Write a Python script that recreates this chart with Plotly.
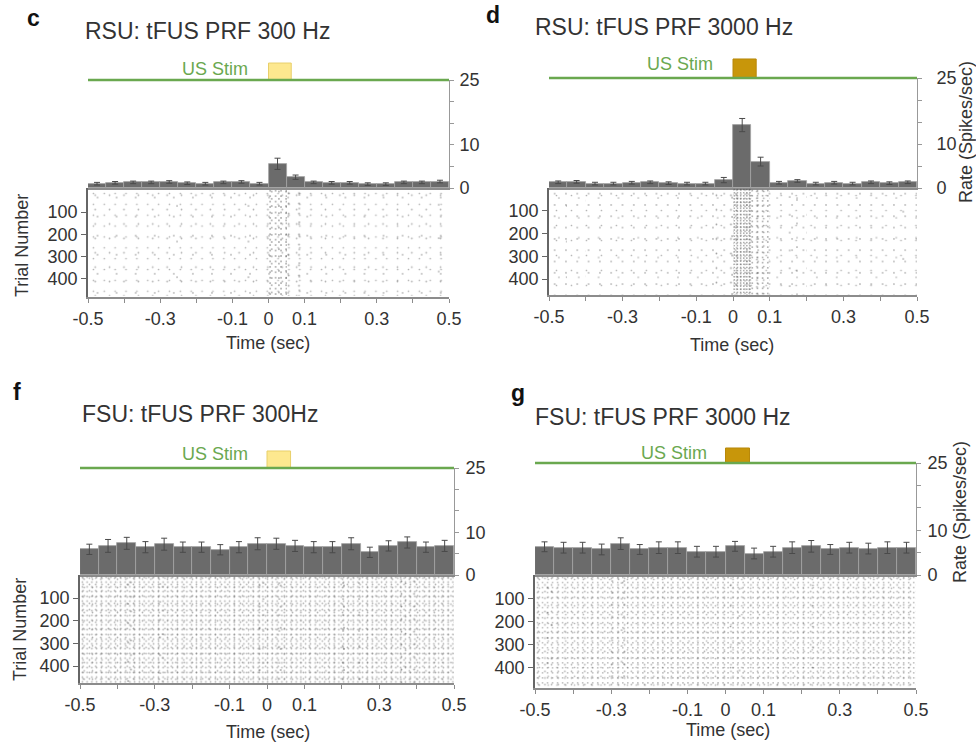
import math
import plotly.graph_objects as go

# ---------------- data ----------------
BIN_CENTERS = [-0.475, -0.425, -0.375, -0.325, -0.275, -0.225, -0.175, -0.125, -0.075, -0.025,
               0.025, 0.075, 0.125, 0.175, 0.225, 0.275, 0.325, 0.375, 0.425, 0.475]
BIN_WIDTH = 0.05
STIM_ON = 0.0
STIM_OFF = 0.063

TIME_TICKS = [-0.5, -0.4, -0.3, -0.2, -0.1, 0.0, 0.1, 0.2, 0.3, 0.4, 0.5]
TIME_TICK_TEXT = ["-0.5", "", "-0.3", "", "-0.1", "0", "0.1", "", "0.3", "", "0.5"]
RATE_TICKS = [0, 5, 10, 15, 20, 25]
RATE_TICK_TEXT = ["0", "", "10", "", "", "25"]
TRIAL_TICKS = [100, 200, 300, 400]

PANEL_LETTERS = ["c", "d", "f", "g"]
PANEL_TITLES = ["RSU: tFUS PRF 300 Hz", "RSU: tFUS PRF 3000 Hz",
                "FSU: tFUS PRF 300Hz", "FSU: tFUS PRF 3000 Hz"]
STIM_FILL = ["#fde88f", "#c8960a", "#fde88f", "#c8960a"]
STIM_EDGE = ["#e8cf6a", "#b8880a", "#e8cf6a", "#b8880a"]
N_TRIALS = [476, 468, 473, 484]

RSU_300_RATE = [1.0, 1.2, 1.3, 1.3, 1.4, 1.1, 1.0, 1.3, 1.4, 1.0,
                5.6, 2.5, 1.3, 1.2, 1.2, 0.9, 0.9, 1.3, 1.3, 1.5]
RSU_300_SEM = [0.3, 0.3, 0.3, 0.3, 0.3, 0.3, 0.3, 0.3, 0.3, 0.3,
               1.3, 0.5, 0.3, 0.3, 0.3, 0.3, 0.3, 0.3, 0.3, 0.3]
RSU_3000_RATE = [1.3, 1.4, 1.0, 1.0, 1.2, 1.3, 1.1, 1.0, 1.0, 1.8,
                 14.3, 6.0, 1.2, 1.6, 1.0, 1.2, 1.0, 1.3, 1.1, 1.3]
RSU_3000_SEM = [0.3, 0.3, 0.3, 0.3, 0.3, 0.3, 0.3, 0.3, 0.3, 0.6,
                1.5, 1.0, 0.3, 0.3, 0.3, 0.3, 0.3, 0.3, 0.3, 0.3]
FSU_300_RATE = [6.0, 6.8, 7.4, 6.5, 7.2, 6.5, 6.5, 5.9, 6.5, 7.3,
                7.3, 6.8, 6.5, 6.5, 7.3, 5.3, 6.8, 7.6, 6.5, 6.8]
FSU_300_SEM = [1.2, 1.5, 1.4, 1.3, 1.4, 1.2, 1.2, 1.2, 1.3, 1.4,
               1.3, 1.3, 1.3, 1.3, 1.4, 1.2, 1.2, 1.3, 1.2, 1.3]
FSU_3000_RATE = [6.3, 6.1, 6.1, 5.7, 7.0, 5.7, 6.1, 6.1, 5.2, 5.2,
                 6.4, 4.8, 5.2, 6.1, 6.4, 5.7, 6.1, 5.9, 6.1, 6.1]
FSU_3000_SEM = [1.1, 1.2, 1.2, 1.2, 1.3, 1.1, 1.3, 1.3, 1.2, 1.2,
                1.1, 1.2, 1.2, 1.3, 1.3, 1.1, 1.2, 1.2, 1.3, 1.2]

RATES = [RSU_300_RATE, RSU_3000_RATE, FSU_300_RATE, FSU_3000_RATE]
SEMS = [RSU_300_SEM, RSU_3000_SEM, FSU_300_SEM, FSU_3000_SEM]

# ---------------- layout geometry (pixels) ----------------
W, H = 976, 743
GEOM = [
    dict(x=(88, 449), hist=(80, 188), rbot=297, trange=[482, -8], stim_top=1.157,
         us=(-0.148, 1.10), standoff=2, title=(83, 31), letter=(33, 18),
         ttitle=(268, 343), ytitle=(22, 246, "Trial Number")),
    dict(x=(549, 917), hist=(78, 188), rbot=295, trange=[470, 0], stim_top=1.173,
         us=(-0.144, 1.13), standoff=11, title=(533, 27), letter=(493, 15),
         ttitle=(732, 345), ytitle=(966, 132, "Rate (Spikes/sec)")),
    dict(x=(80, 454), hist=(468, 575), rbot=683, trange=[475, -1.5], stim_top=1.159,
         us=(-0.139, 1.13), standoff=3, title=(80, 414), letter=(17, 392),
         ttitle=(268, 732), ytitle=(20, 630, "Trial Number")),
    dict(x=(535, 916), hist=(463, 575), rbot=688, trange=[487, -4], stim_top=1.134,
         us=(-0.135, 1.09), standoff=3, title=(533, 417), letter=(518, 393),
         ttitle=(728, 730), ytitle=(960, 512, "Rate (Spikes/sec)")),
]

FONT = "Liberation Sans, Arial, sans-serif"
TXT = "#333333"
GREEN = "#6aa84f"
# superposed stipple lattices (relative spacing) used to draw the raster texture
STIPPLE_LAYERS = [1.0, 1.3247, 1.7549]
STIPPLE_K = 9.0      # px spacing of a one-lattice texture at 1 spike/s
DOT_R = 0.85         # dot radius, px
DOT_COLOR = "#666666"
PEAK_DOT_COLOR = "#3c3c3c"


def px(xp):
    return xp / W


def py(yp):
    return 1 - yp / H


def ax_id(n):
    return "" if n == 1 else str(n)


def stipple_trace(density, n_trials, xa, ya, mult, nl, color):
    """pattern-filled bars: one lattice of a texture whose dot density ~ density."""
    k = STIPPLE_K * math.sqrt(sum(1.0 / (m * m) for m in STIPPLE_LAYERS[:nl]))
    spacing, solidity = [], []
    for d in density:
        if d <= 0.05:
            spacing.append(20.0)
            solidity.append(0.0)
        else:
            s = k * mult / math.sqrt(d)
            spacing.append(s)
            solidity.append(min(0.6, math.pi * DOT_R ** 2 / (s * s)))
    return go.Bar(
        x=BIN_CENTERS, y=[n_trials] * len(BIN_CENTERS), base=0, width=BIN_WIDTH,
        xaxis=xa, yaxis=ya, hoverinfo="skip",
        marker=dict(color="rgba(0,0,0,0)", line=dict(width=0),
                    pattern=dict(shape=".", fgcolor=color, bgcolor="rgba(0,0,0,0)",
                                 size=spacing, solidity=solidity)),
    )


fig = go.Figure()
layout = dict(
    width=W, height=H, margin=dict(l=0, r=0, t=0, b=0, autoexpand=False),
    paper_bgcolor="white", plot_bgcolor="rgba(0,0,0,0)",
    showlegend=False, bargap=0, barmode="overlay",
    font=dict(family=FONT, color=TXT, size=17),
)
shapes = []
annotations = []

for i, g in enumerate(GEOM):
    hx, rx = 2 * i + 1, 2 * i + 2
    hxa, hya = "x" + ax_id(hx), "y" + ax_id(hx)
    rxa, rya = "x" + ax_id(rx), "y" + ax_id(rx)
    rate, sem = RATES[i], SEMS[i]

    # PSTH histogram
    fig.add_trace(go.Bar(
        x=BIN_CENTERS, y=rate, width=BIN_WIDTH, xaxis=hxa, yaxis=hya,
        marker=dict(color="#6b6b6b", line=dict(color="#a3a3a3", width=0.8)),
        error_y=dict(type="data", array=sem, color="#4a4a4a", thickness=1, width=3),
    ))

    # raster texture: a continuous background density (median rate) plus the
    # per-bin excess above it, both taken from the PSTH
    med = sorted(rate)[len(rate) // 2]
    base_density = [med] * len(rate)
    excess = [max(0.0, r - med) for r in rate]
    for mult in STIPPLE_LAYERS:
        fig.add_trace(stipple_trace(base_density, N_TRIALS[i], rxa, rya, mult,
                                    len(STIPPLE_LAYERS), DOT_COLOR))
    for mult in STIPPLE_LAYERS[:2]:
        fig.add_trace(stipple_trace(excess, N_TRIALS[i], rxa, rya, mult, 2, PEAK_DOT_COLOR))

    dom_x = [px(g["x"][0]), px(g["x"][1])]
    layout["xaxis" + ax_id(rx)] = dict(
        domain=dom_x, anchor=rya, range=[-0.5, 0.5], tickvals=TIME_TICKS,
        ticktext=TIME_TICK_TEXT, ticks="outside", ticklen=4, tickcolor="#8c8c8c",
        showline=True, linecolor="#8c8c8c", linewidth=2, showgrid=False, zeroline=False,
        tickfont=dict(size=18, color=TXT), automargin=False,
    )
    layout["yaxis" + ax_id(rx)] = dict(
        domain=[py(g["rbot"]), py(g["hist"][1])], anchor=rxa, range=g["trange"],
        tickvals=TRIAL_TICKS, ticks="outside", ticklen=5, tickcolor="#666666",
        showline=True, linecolor="#666666", linewidth=1.5, showgrid=False, zeroline=False,
        tickfont=dict(size=18, color=TXT), automargin=False,
    )
    layout["xaxis" + ax_id(hx)] = dict(
        domain=dom_x, anchor=hya, matches=rxa, range=[-0.5, 0.5],
        showticklabels=False, ticks="", showline=True, linecolor="#8c8c8c", linewidth=1.5,
        showgrid=False, zeroline=False, automargin=False,
    )
    layout["yaxis" + ax_id(hx)] = dict(
        domain=[py(g["hist"][1]), py(g["hist"][0])], anchor=hxa, side="right",
        range=[0, 25], tickvals=RATE_TICKS, ticktext=RATE_TICK_TEXT,
        ticks="outside", ticklen=4, tickcolor="#999999", showline=True,
        linecolor="#999999", linewidth=1, showgrid=False, zeroline=False,
        ticklabelstandoff=g["standoff"], tickfont=dict(size=18, color=TXT),
        automargin=False,
    )

    # US stim marker
    shapes.append(dict(type="rect", xref=hxa, yref=hya + " domain",
                       x0=STIM_ON, x1=STIM_OFF, y0=1.0, y1=g["stim_top"],
                       fillcolor=STIM_FILL[i], line=dict(color=STIM_EDGE[i], width=1)))
    shapes.append(dict(type="line", xref=hxa, yref=hya + " domain",
                       x0=-0.5, x1=0.5, y0=1.0, y1=1.0, line=dict(color=GREEN, width=2.5)))
    annotations.append(dict(text="US Stim", xref=hxa, yref=hya + " domain",
                            x=g["us"][0], y=g["us"][1], xanchor="center",
                            yanchor="middle", showarrow=False,
                            font=dict(size=18, color=GREEN)))

    # titles and labels
    annotations.append(dict(text=PANEL_TITLES[i], xref="paper", yref="paper",
                            x=px(g["title"][0]), y=py(g["title"][1]), xanchor="left",
                            yanchor="middle", showarrow=False,
                            font=dict(size=23, color=TXT)))
    annotations.append(dict(text=f"<b>{PANEL_LETTERS[i]}</b>", xref="paper", yref="paper",
                            x=px(g["letter"][0]), y=py(g["letter"][1]), xanchor="center",
                            yanchor="middle", showarrow=False,
                            font=dict(size=23, color="#111111")))
    annotations.append(dict(text="Time (sec)", xref="paper", yref="paper",
                            x=px(g["ttitle"][0]), y=py(g["ttitle"][1]), xanchor="center",
                            yanchor="middle", showarrow=False,
                            font=dict(size=18, color=TXT)))
    yt = g["ytitle"]
    annotations.append(dict(text=yt[2], xref="paper", yref="paper",
                            x=px(yt[0]), y=py(yt[1]), xanchor="center", yanchor="middle",
                            textangle=-90, showarrow=False,
                            font=dict(size=18, color=TXT)))

layout["shapes"] = shapes
layout["annotations"] = annotations
fig.update_layout(**layout)
fig.write_html("out.html", config={"displayModeBar": False},
               post_script="document.body.style.margin='0px';"
                           "document.body.style.overflow='hidden';")
